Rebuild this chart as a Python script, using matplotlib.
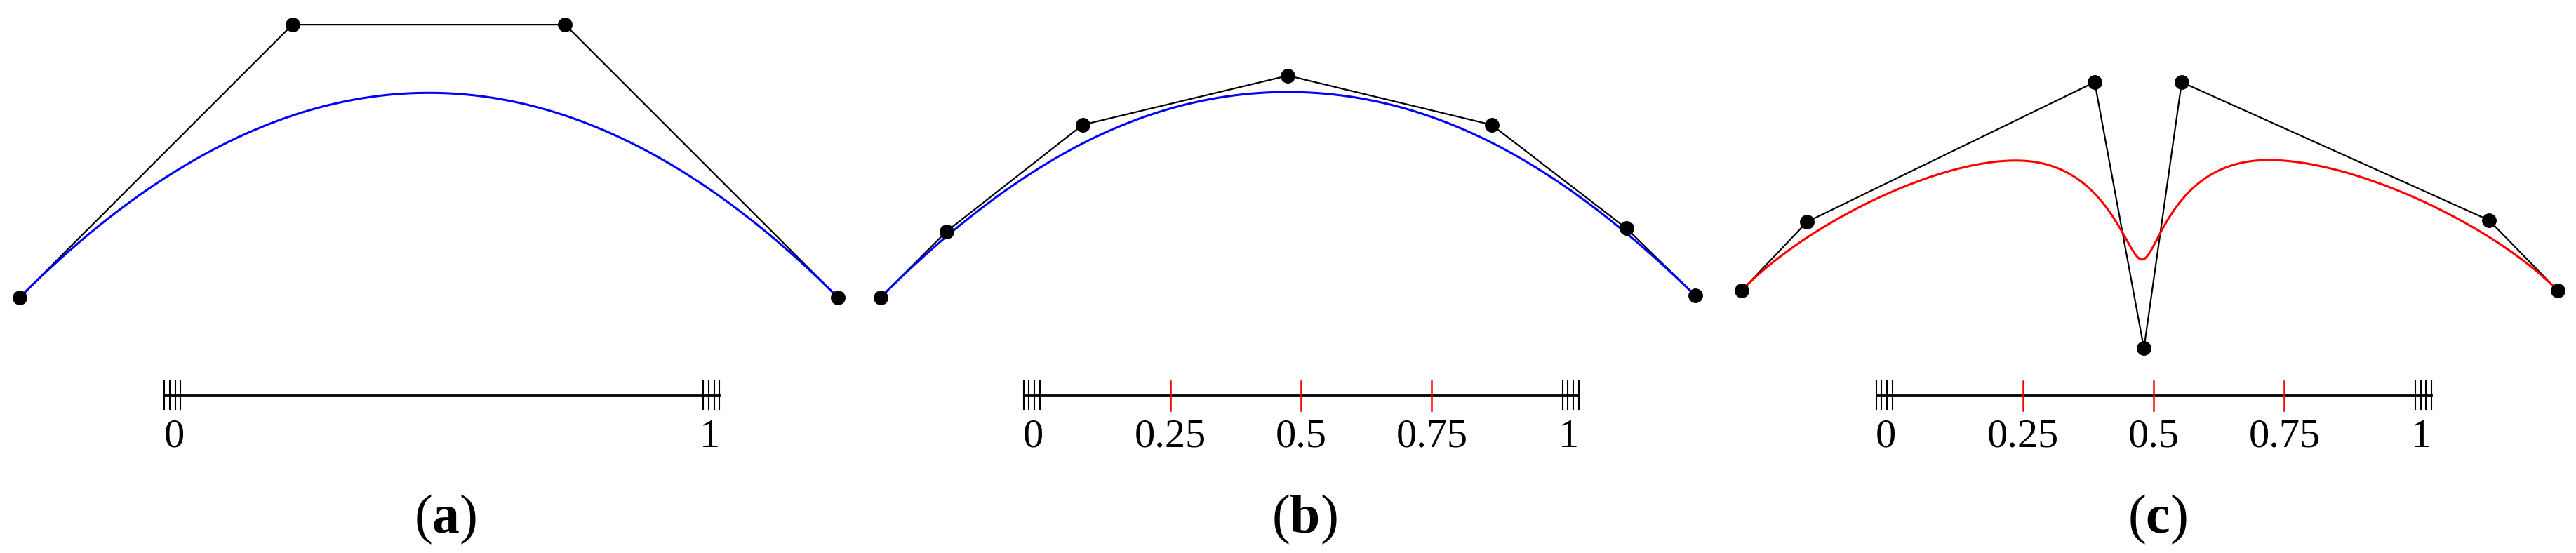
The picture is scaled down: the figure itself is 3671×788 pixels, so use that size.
import numpy as np
import matplotlib
matplotlib.use("Agg")
import matplotlib.pyplot as plt

plt.rcParams['mathtext.fontset'] = 'custom'
plt.rcParams['mathtext.rm'] = 'Liberation Serif'
plt.rcParams['mathtext.bf'] = 'Liberation Serif:bold'

# control points (overview pixel units, y downward)
ctrl_a_x = [12, 178, 344, 510]
ctrl_a_y = [181, 15, 15, 181]
ctrl_b_x = [536, 576, 659, 784, 908, 990, 1032]
ctrl_b_y = [181, 141, 76, 46, 76, 139, 180]
ctrl_c_x = [1060, 1100, 1275, 1305, 1328, 1515, 1557]
ctrl_c_y = [177, 135, 50, 212, 50, 134, 177]
knots_a = [0, 0, 0, 0, 1, 1, 1, 1]
knots_bc = [0, 0, 0, 0, 0.25, 0.5, 0.75, 1, 1, 1, 1]
interior_labels = ["0.25", "0.5", "0.75"]
captions = ["a", "b", "c"]
curve_colors = ["#0000ff", "#0000ff", "#ff0000"]

def basis(i, k, t, U):
    if k == 0:
        if U[i] <= t < U[i+1] or (t == U[-1] and U[i] < U[i+1] == U[-1]):
            return 1.0
        return 0.0
    a = 0.0
    if U[i+k] != U[i]:
        a = (t - U[i]) / (U[i+k] - U[i]) * basis(i, k-1, t, U)
    b = 0.0
    if U[i+k+1] != U[i+1]:
        b = (U[i+k+1] - t) / (U[i+k+1] - U[i+1]) * basis(i+1, k-1, t, U)
    return a + b

def bspline(px, py, U, deg=3, n=400):
    ts = np.linspace(0, 1, n)
    xs, ys = [], []
    for t in ts:
        w = [basis(i, deg, t, U) for i in range(len(px))]
        xs.append(np.dot(w, px)); ys.append(np.dot(w, py))
    return xs, ys

W, H = 3671, 788
fig = plt.figure(figsize=(W/100, H/100), dpi=100)
ax = fig.add_axes([0, 0, 1, 1])
sx = 1568
ax.set_xlim(0, sx)
ax.set_ylim(sx*H/W, 0)
ax.axis('off')

panels = [(ctrl_a_x, ctrl_a_y, knots_a, 110, 428),
          (ctrl_b_x, ctrl_b_y, knots_bc, 633, 951),
          (ctrl_c_x, ctrl_c_y, knots_bc, 1152, 1470)]
for k, (px, py, U, x0, x1) in enumerate(panels):
    ax.plot(px, py, color='black', lw=1.6, zorder=2)
    cx, cy = bspline(px, py, U)
    ax.plot(cx, cy, color=curve_colors[k], lw=2.2, zorder=3)
    ax.plot(px, py, 'o', color='black', ms=14, zorder=4)
    # knot line
    ly = 240.5
    ax.plot([x0 - 10, x1 + 10], [ly, ly], color='black', lw=2, zorder=2)
    for j in range(4):
        ax.plot([x0 - 10 + j*3.3]*2, [232, 249], color='black', lw=1.5)
        ax.plot([x1 + 10 - j*3.3]*2, [232, 249], color='black', lw=1.5)
    ax.text(x0 - 4, 266, "0", ha='center', va='center', fontsize=42, family='Liberation Serif')
    ax.text(x1 + 4, 266, "1", ha='center', va='center', fontsize=42, family='Liberation Serif')
    inner = sorted(set(U) - {0, 1})
    for v, lab in zip(inner, interior_labels):
        xv = x0 + v*(x1 - x0)
        ax.plot([xv, xv], [232, 250], color='red', lw=1.8)
        ax.text(xv, 266, lab, ha='center', va='center', fontsize=42, family='Liberation Serif')
    ax.text((x0 + x1)/2 + 2, 316, r'$(\mathbf{%s})$' % captions[k], ha='center', va='center', fontsize=56)

fig.savefig("out.png", dpi=100)
